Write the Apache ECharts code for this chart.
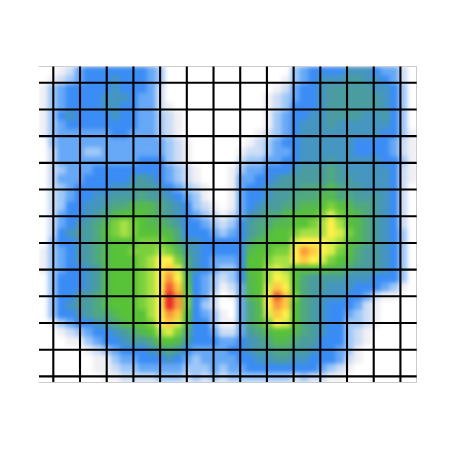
<!DOCTYPE html>
<html>
<head>
<meta charset="utf-8">
<style>
  html, body { margin: 0; padding: 0; background: #fff; }
  #chart { width: 460px; height: 460px; }
</style>
</head>
<body>
<div id="chart"></div>
<script src="https://cdn.jsdelivr.net/npm/echarts@6/dist/echarts.min.js"></script>
<script>
// density level per cell, top row first, one char per column (base 36: 0..i)
const densityRows = [
  '001245555555430000000' + '000000034555566654420',
  '012345556555430000000' + '000000134566677665420',
  '134555556555420000000' + '000001245567777766530',
  '134555566654420000000' + '000012345567777776530',
  '134555566554421000000' + '000012355567777776530',
  '135655556554432100000' + '000013455667777667530',
  '134555555554432100000' + '000013456667666666530',
  '134444445544432100000' + '000123456666666665531',
  '034444444444443210000' + '001234556666665555421',
  '024443344444443210000' + '012234456666665555421',
  '024444444445553210000' + '023344556667666665531',
  '023444555555554321000' + '134455567778766666521',
  '024445555567654321000' + '144556777778776666521',
  '023455556677765432100' + '145567778889877666520',
  '023455667778776543100' + '145567788899887776520',
  '023556678899987653210' + '1456778899aba98876520',
  '024556789aaa987654321' + '2467889aaabdba9876520',
  '02456789bcba998755432' + '3578899aabceca9876520',
  '0256778abcbaaa9855543' + '45789aabcccedb9876530',
  '03556789aaabbba866555' + '5589aaadeeedca9876530',
  '13456789aabbbcb976555' + '559aabbegfedba8776530',
  '13456789aaabceeb86544' + '45aabccefedba98776530',
  '13455679aaabcefd86543' + '35aacdcaaaa9987776530',
  '03555679aaabcege95432' + '359aceda8777766655530',
  '03555679aaabcehfa5431' + '249adfea8776665554310',
  '03557789aaabceigb5420' + '149aehfb8766655421100',
  '03567789aaabceigb5320' + '0489egfa8765554210000',
  '035567889aaacegfa5431' + '0489dfea8765543210000',
  '0134556789aabefd95531' + '1489beda8765533210000',
  '001234556789acdb85542' + '24789aa98765532100000',
  '0001134556778aa975554' + '456789987755532100000',
  '000001234555678754444' + '556778877655431000000',
  '000000113445556543444' + '455667766555421000000',
  '000000112334444433343' + '445555555543210000000',
  '000000011222233323232' + '333333323221100000000'
]

// colour of each density level
const levelColors = [
  '#ffffff', '#f0f0f4', '#cdddf5', '#9fc8f8', '#66a8f6', '#3a8cf5', '#4495c0',
  '#4a9ca0', '#50a880', '#56b850', '#58c238', '#7ad03c', '#a8e045', '#d8ee48',
  '#fff04a', '#ffc842', '#f89a3c', '#f06030', '#e82a28'
]

// black rule positions, in rule units
const xRules = [1, 2, 3, 4, 5, 6, 7, 8, 9, 10, 11, 12, 13, 14]
const yRules = [1, 2, 3, 4, 5, 6, 7, 8, 9, 10, 11, 12]

const colCategories = [...densityRows[0]].map((_, i) => i)
const rowCategories = densityRows.map((_, i) => i)

const cells = []
densityRows.forEach((row, r) => {
  [...row].forEach((ch, c) => cells.push([c, r, parseInt(ch, 36)]))
})

const ruleStyle = { stroke: '#000', lineWidth: 2.1 }
const borderLine = { show: true, lineStyle: { color: '#cccccc', width: 1 } }

const chart = echarts.init(document.getElementById('chart'), null, { renderer: 'canvas' })

chart.setOption({
  animation: false,
  grid: { left: 39, top: 66.5, width: 377.7, height: 315.5 },
  xAxis: [
    {
      type: 'category', data: colCategories, position: 'bottom', zlevel: 1,
      axisLine: borderLine, axisTick: { show: false }, axisLabel: { show: false }, splitLine: { show: false }
    },
    {
      type: 'value', min: 0.464, max: 14.61, position: 'top', zlevel: 1,
      axisLine: borderLine, axisTick: { show: false }, axisLabel: { show: false }, splitLine: { show: false }
    }
  ],
  yAxis: [
    {
      type: 'category', data: rowCategories, inverse: true, position: 'right', zlevel: 1,
      axisLine: borderLine, axisTick: { show: false }, axisLabel: { show: false }, splitLine: { show: false }
    },
    {
      type: 'value', min: 0.79, max: 12.61, position: 'left', zlevel: 1,
      axisLine: { show: false }, axisTick: { show: false }, axisLabel: { show: false }, splitLine: { show: false }
    }
  ],
  visualMap: {
    show: false, type: 'continuous', seriesIndex: 0,
    min: 0, max: levelColors.length - 1,
    inRange: { color: levelColors }
  },
  series: [
    {
      type: 'heatmap', data: cells, zlevel: 0,
      itemStyle: { borderWidth: 0 },
      emphasis: { disabled: true }
    },
    {
      // vertical rules
      type: 'custom', xAxisIndex: 1, yAxisIndex: 1, silent: true, zlevel: 1, z: 5,
      data: xRules.map(v => [v]),
      renderItem: (params, api) => {
        const a = api.coord([api.value(0), 0.79])
        const b = api.coord([api.value(0), 12.61])
        return { type: 'line', shape: { x1: a[0], y1: a[1], x2: b[0], y2: b[1] }, style: ruleStyle }
      }
    },
    {
      // horizontal rules
      type: 'custom', xAxisIndex: 1, yAxisIndex: 1, silent: true, zlevel: 1, z: 5,
      data: yRules.map(v => [0.464, v]),
      renderItem: (params, api) => {
        const a = api.coord([0.464, api.value(1)])
        const b = api.coord([14.61, api.value(1)])
        return { type: 'line', shape: { x1: a[0], y1: a[1], x2: b[0], y2: b[1] }, style: ruleStyle }
      }
    }
  ]
})

// soften the density layer only, the rules sit on their own canvas above it
const densityCanvas = chart.getDom().querySelectorAll('canvas')[0]
densityCanvas.style.filter = 'blur(2.2px)'
densityCanvas.style.clipPath = 'inset(66px 43px 78px 39px)'
</script>
</body>
</html>
